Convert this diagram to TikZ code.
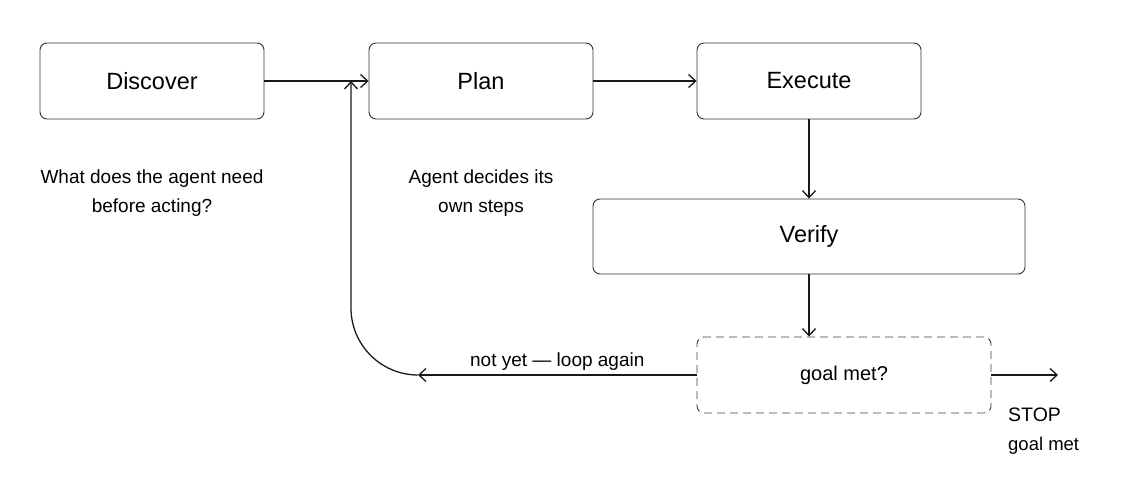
\documentclass[tikz,border=0pt]{standalone}
\usepackage{fontspec}
\setmainfont{Liberation Sans}
\usetikzlibrary{arrows.meta}

\begin{document}
\begin{tikzpicture}
  [x=1pt, y=-1pt,
   stage/.style={rectangle, rounded corners=7pt, draw=black!80, line width=0.9pt,
     minimum width=224pt, minimum height=76pt, inner sep=0pt, font=\fontsize{23.5}{28}\selectfont},
   check/.style={stage, draw=black!75, dashed, dash pattern=on 8pt off 5pt,
     minimum width=294pt, font=\fontsize{20}{24}\selectfont},
   note/.style={align=center, font=\fontsize{19}{29}\selectfont},
   flow/.style={draw=black!90, line width=1.3pt, -{Straight Barb[length=7pt, width=13pt]}}]

  \useasboundingbox (0,0) rectangle (1146,500);

  \node[stage] (discover) at (152,81) {Discover};
  \node[stage] (plan) at (481,81) {Plan};
  \node[stage] (execute) at (809,81) {Execute};
  \node[stage, minimum width=432pt, minimum height=75pt] (verify) at (809,236.5) {Verify};
  \node[check] (goal) at (844,375) {goal met?};

  \node[note] (discovernote) at (152,193.5) {What does the agent need\\before acting?};
  \node[note] (plannote) at (481,193.5) {Agent decides its\\own steps};

  \coordinate (loopturn) at (418,375);
  \coordinate (loopend) at (351,81);
  \coordinate (stopend) at (1058,375);

  \foreach \from/\to in {discover/plan,plan/execute,execute/verify}
    \draw[flow] (\from) -- (\to);
  \draw[flow] (verify.south) -- (verify.south |- goal.north);

  \draw[flow] (goal.east) -- (stopend);
  \draw[flow] (goal.west) -- node[above, font=\fontsize{19}{22}\selectfont, yshift=1pt] (looplabel) {not yet — loop again} (loopturn);
  \draw[flow, rounded corners=67pt] (loopturn) -| (loopend);

  \node[anchor=north west, inner sep=0pt, font=\fontsize{19.5}{24}\selectfont] (stoplabel) at (1008,408) {STOP};
  \node[anchor=north west, inner sep=0pt, font=\fontsize{18.5}{22}\selectfont] (stopnote) at (1008,437) {goal met};
\end{tikzpicture}
\end{document}
